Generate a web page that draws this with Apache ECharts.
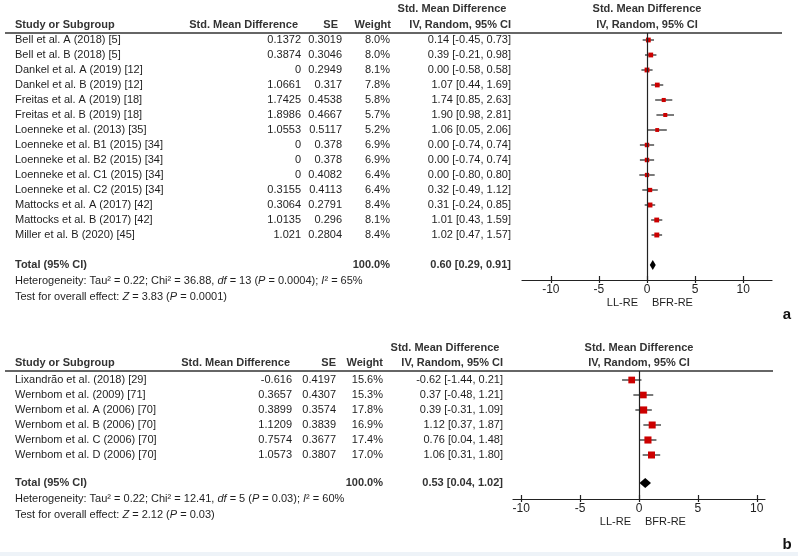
<!DOCTYPE html>
<html><head><meta charset="utf-8">
<script src="https://cdn.jsdelivr.net/npm/echarts@6/dist/echarts.min.js"></script>
<style>html,body{margin:0;padding:0;background:#fff}#c{width:798px;height:556px}</style>
</head><body><div id="c"></div>
<script>
// ---------- Panel a data ----------
const studiesA = ["Bell et al. A (2018) [5]","Bell et al. B (2018) [5]","Dankel et al. A (2019) [12]","Dankel et al. B (2019) [12]","Freitas et al. A (2019) [18]","Freitas et al. B (2019) [18]","Loenneke et al. (2013) [35]","Loenneke et al. B1 (2015) [34]","Loenneke et al. B2 (2015) [34]","Loenneke et al. C1 (2015) [34]","Loenneke et al. C2 (2015) [34]","Mattocks et al. A (2017) [42]","Mattocks et al. B (2017) [42]","Miller et al. B (2020) [45]"];
const smdA = [0.1372,0.3874,0,1.0661,1.7425,1.8986,1.0553,0,0,0,0.3155,0.3064,1.0135,1.021];
const seA = [0.3019,0.3046,0.2949,0.317,0.4538,0.4667,0.5117,0.378,0.378,0.4082,0.4113,0.2791,0.296,0.2804];
const weightA = [8.0,8.0,8.1,7.8,5.8,5.7,5.2,6.9,6.9,6.4,6.4,8.4,8.1,8.4];
const estA = [0.14,0.39,0.00,1.07,1.74,1.90,1.06,0.00,0.00,0.00,0.32,0.31,1.01,1.02];
const loA = [-0.45,-0.21,-0.58,0.44,0.85,0.98,0.05,-0.74,-0.74,-0.80,-0.49,-0.24,0.43,0.47];
const hiA = [0.73,0.98,0.58,1.69,2.63,2.81,2.06,0.74,0.74,0.80,1.12,0.85,1.59,1.57];
const totalA = [0.60, 0.29, 0.91];
const hetA = {tau2:"0.22", chi2:"36.88", df:"13", p:"0.0004", i2:"65%", z:"3.83", pz:"0.0001"};

// ---------- Panel b data ----------
const studiesB = ["Lixandrão et al. (2018) [29]","Wernbom et al. (2009) [71]","Wernbom et al. A (2006) [70]","Wernbom et al. B (2006) [70]","Wernbom et al. C (2006) [70]","Wernbom et al. D (2006) [70]"];
const smdB = [-0.616,0.3657,0.3899,1.1209,0.7574,1.0573];
const seB = [0.4197,0.4307,0.3574,0.3839,0.3677,0.3807];
const weightB = [15.6,15.3,17.8,16.9,17.4,17.0];
const estB = [-0.62,0.37,0.39,1.12,0.76,1.06];
const loB = [-1.44,-0.48,-0.31,0.37,0.04,0.31];
const hiB = [0.21,1.21,1.09,1.87,1.48,1.80];
const totalB = [0.53, 0.04, 1.02];
const hetB = {tau2:"0.22", chi2:"12.41", df:"5", p:"0.03", i2:"60%", z:"2.12", pz:"0.03"};

const tickValues = [-10,-5,0,5,10];

// ---------- layout ----------
const FONT = "'Liberation Sans', Arial, sans-serif";
const TXT = '#1e1e1e';
const HDR = '#333333';
const colsA = {name:15, smd:301, se:342, w:390, ci:511};
const colsB = {name:15, smd:292, se:336, w:383, ci:503};
const totalRowA = 15, totalRowB = 6.87;
const gridA = {left:522, right:26, top:33, height:247};
const gridB = {left:513, right:33, top:371, height:128};

function fmt(v){return v.toFixed(2);}
function ciStr(e,l,h){return fmt(e)+' ['+fmt(l)+', '+fmt(h)+']';}

function rowsData(est,lo,hi,w){return est.map((e,i)=>[e,lo[i],hi[i],i,w[i]]);}

function forestRender(params, api){
  const r = api.value(3);
  const p = api.coord([api.value(0), r]);
  const l = api.coord([api.value(1), r]);
  const h = api.coord([api.value(2), r]);
  const s = 1.7*Math.sqrt(api.value(4));
  return {type:'group', children:[
    {type:'line', shape:{x1:l[0],y1:l[1],x2:h[0],y2:h[1]}, style:{stroke:'#222',lineWidth:1.2}},
    {type:'rect', shape:{x:p[0]-s/2,y:p[1]-s/2,width:s,height:s}, style:{fill:'#cc0000'}}
  ]};
}

function tableRender(names, smd, se, w, est, lo, hi, cols){
  return function(params, api){
    const i = params.dataIndex;
    const y = api.coord([0, api.value(0)])[1];
    const t = (text,x,align)=>({type:'text', style:{text:text,x:x,y:y,align:align,verticalAlign:'middle',font:'11px '+FONT,fill:TXT}});
    return {type:'group', children:[
      t(names[i], cols.name, 'left'),
      t(String(smd[i]), cols.smd, 'right'),
      t(String(se[i]), cols.se, 'right'),
      t(w[i].toFixed(1)+'%', cols.w, 'right'),
      t(ciStr(est[i],lo[i],hi[i]), cols.ci, 'right')
    ]};
  };
}

function totalRender(tot, het, cols){
  return function(params, api){
    const r = api.value(0);
    const c = api.coord([tot[0], r]);
    const l = api.coord([tot[1], r]);
    const h = api.coord([tot[2], r]);
    const y = c[1];
    const bold = (text,x,align)=>({type:'text', style:{text:text,x:x,y:y,align:align,verticalAlign:'middle',font:'bold 11px '+FONT,fill:HDR}});
    const rich = {i:{fontStyle:'italic',fontSize:11,fontFamily:FONT,fill:TXT}};
    return {type:'group', children:[
      {type:'polygon', shape:{points:[[l[0],y],[c[0],y-5],[h[0],y],[c[0],y+5]]}, style:{fill:'#000'}},
      bold('Total (95% CI)', cols.name, 'left'),
      bold('100.0%', cols.w, 'right'),
      bold(ciStr(tot[0],tot[1],tot[2]), cols.ci, 'right'),
      {type:'text', style:{text:'Heterogeneity: Tau² = '+het.tau2+'; Chi² = '+het.chi2+', {i|df} = '+het.df+' ({i|P} = '+het.p+'); {i|I}² = '+het.i2,
        x:cols.name, y:y+16, align:'left', verticalAlign:'middle', font:'11px '+FONT, fill:TXT, rich:rich}},
      {type:'text', style:{text:'Test for overall effect: {i|Z} = '+het.z+' ({i|P} = '+het.pz+')',
        x:cols.name, y:y+32, align:'left', verticalAlign:'middle', font:'11px '+FONT, fill:TXT, rich:rich}}
    ]};
  };
}

function xAxes(gridIndex, min, max, gridH){
  const base = {type:'value', gridIndex:gridIndex, min:min, max:max, splitLine:{show:false}};
  return [
    Object.assign({}, base, {
      position:'bottom',
      axisLine:{show:true, onZero:false, lineStyle:{color:'#222', width:1.2}},
      axisTick:{show:true, customValues:tickValues, length:3, lineStyle:{color:'#222', width:1.2}},
      axisLabel:{show:true, customValues:tickValues, color:TXT, fontSize:12, fontFamily:FONT, margin:4}
    }),
    // second axis moved onto the bottom line to draw the upper half of the crossing ticks
    Object.assign({}, base, {
      position:'top', offset:-gridH,
      axisLine:{show:false, onZero:false},
      axisTick:{show:true, inside:false, customValues:tickValues, length:4, lineStyle:{color:'#222', width:1.2}},
      axisLabel:{show:false}
    })
  ];
}

const chart = echarts.init(document.getElementById('c'), null, {renderer:'canvas'});

const hText = (text,x,y,align,extra)=>({type:'text', style:Object.assign({text:text,x:x,y:y,align:align,verticalAlign:'middle',font:'bold 11px '+FONT,fill:HDR},extra||{})});

const option = {
  backgroundColor:'#fff',
  animation:false,
  grid:[gridA, gridB],
  xAxis:[].concat(xAxes(0,-13,13,gridA.height), xAxes(1,-10.7,10.7,gridB.height)),
  yAxis:[
    {type:'value', gridIndex:0, inverse:true, min:-7/15, max:16, show:false},
    {type:'value', gridIndex:1, inverse:true, min:-0.6, max:119/15, show:false}
  ],
  series:[
    {type:'custom', xAxisIndex:0, yAxisIndex:0, clip:false, data:rowsData(estA,loA,hiA,weightA), renderItem:forestRender,
     markLine:{silent:true, symbol:'none', label:{show:false}, lineStyle:{color:'#222',type:'solid',width:1.2}, data:[{xAxis:0}]}},
    {type:'custom', xAxisIndex:0, yAxisIndex:0, clip:false, data:studiesA.map((s,i)=>[i]), renderItem:tableRender(studiesA,smdA,seA,weightA,estA,loA,hiA,colsA)},
    {type:'custom', xAxisIndex:0, yAxisIndex:0, clip:false, data:[[totalRowA]], renderItem:totalRender(totalA,hetA,colsA)},
    {type:'custom', xAxisIndex:2, yAxisIndex:1, clip:false, data:rowsData(estB,loB,hiB,weightB), renderItem:forestRender,
     markLine:{silent:true, symbol:'none', label:{show:false}, lineStyle:{color:'#222',type:'solid',width:1.2}, data:[{xAxis:0}]}},
    {type:'custom', xAxisIndex:2, yAxisIndex:1, clip:false, data:studiesB.map((s,i)=>[i]), renderItem:tableRender(studiesB,smdB,seB,weightB,estB,loB,hiB,colsB)},
    {type:'custom', xAxisIndex:2, yAxisIndex:1, clip:false, data:[[totalRowB]], renderItem:totalRender(totalB,hetB,colsB)}
  ],
  graphic:[
    hText('Std. Mean Difference', 452, 9, 'center'),
    hText('Std. Mean Difference', 647, 9, 'center'),
    hText('Study or Subgroup', 15, 25, 'left'),
    hText('Std. Mean Difference', 298, 25, 'right'),
    hText('SE', 338, 25, 'right'),
    hText('Weight', 391, 25, 'right'),
    hText('IV, Random, 95% CI', 511, 25, 'right'),
    hText('IV, Random, 95% CI', 647, 25, 'center'),
    {type:'line', shape:{x1:5,y1:33,x2:782,y2:33}, style:{stroke:'#333',lineWidth:1.3}},
    {type:'text', style:{text:'LL-RE', x:638, y:303, align:'right', verticalAlign:'middle', font:'11px '+FONT, fill:TXT}},
    {type:'text', style:{text:'BFR-RE', x:652, y:303, align:'left', verticalAlign:'middle', font:'11px '+FONT, fill:TXT}},
    {type:'text', style:{text:'a', x:787, y:315, align:'center', verticalAlign:'middle', font:'bold 15px '+FONT, fill:'#111'}},
    hText('Std. Mean Difference', 445, 348, 'center'),
    hText('Std. Mean Difference', 639, 348, 'center'),
    hText('Study or Subgroup', 15, 363, 'left'),
    hText('Std. Mean Difference', 290, 363, 'right'),
    hText('SE', 336, 363, 'right'),
    hText('Weight', 383, 363, 'right'),
    hText('IV, Random, 95% CI', 503, 363, 'right'),
    hText('IV, Random, 95% CI', 639, 363, 'center'),
    {type:'line', shape:{x1:5,y1:371,x2:773,y2:371}, style:{stroke:'#333',lineWidth:1.3}},
    {type:'text', style:{text:'LL-RE', x:631, y:522, align:'right', verticalAlign:'middle', font:'11px '+FONT, fill:TXT}},
    {type:'text', style:{text:'BFR-RE', x:645, y:522, align:'left', verticalAlign:'middle', font:'11px '+FONT, fill:TXT}},
    {type:'text', style:{text:'b', x:787, y:545, align:'center', verticalAlign:'middle', font:'bold 15px '+FONT, fill:'#111'}},
    {type:'rect', shape:{x:0,y:552,width:798,height:4}, style:{fill:'#eef3f8'}}
  ]
};
chart.setOption(option);
</script>
</body></html>
